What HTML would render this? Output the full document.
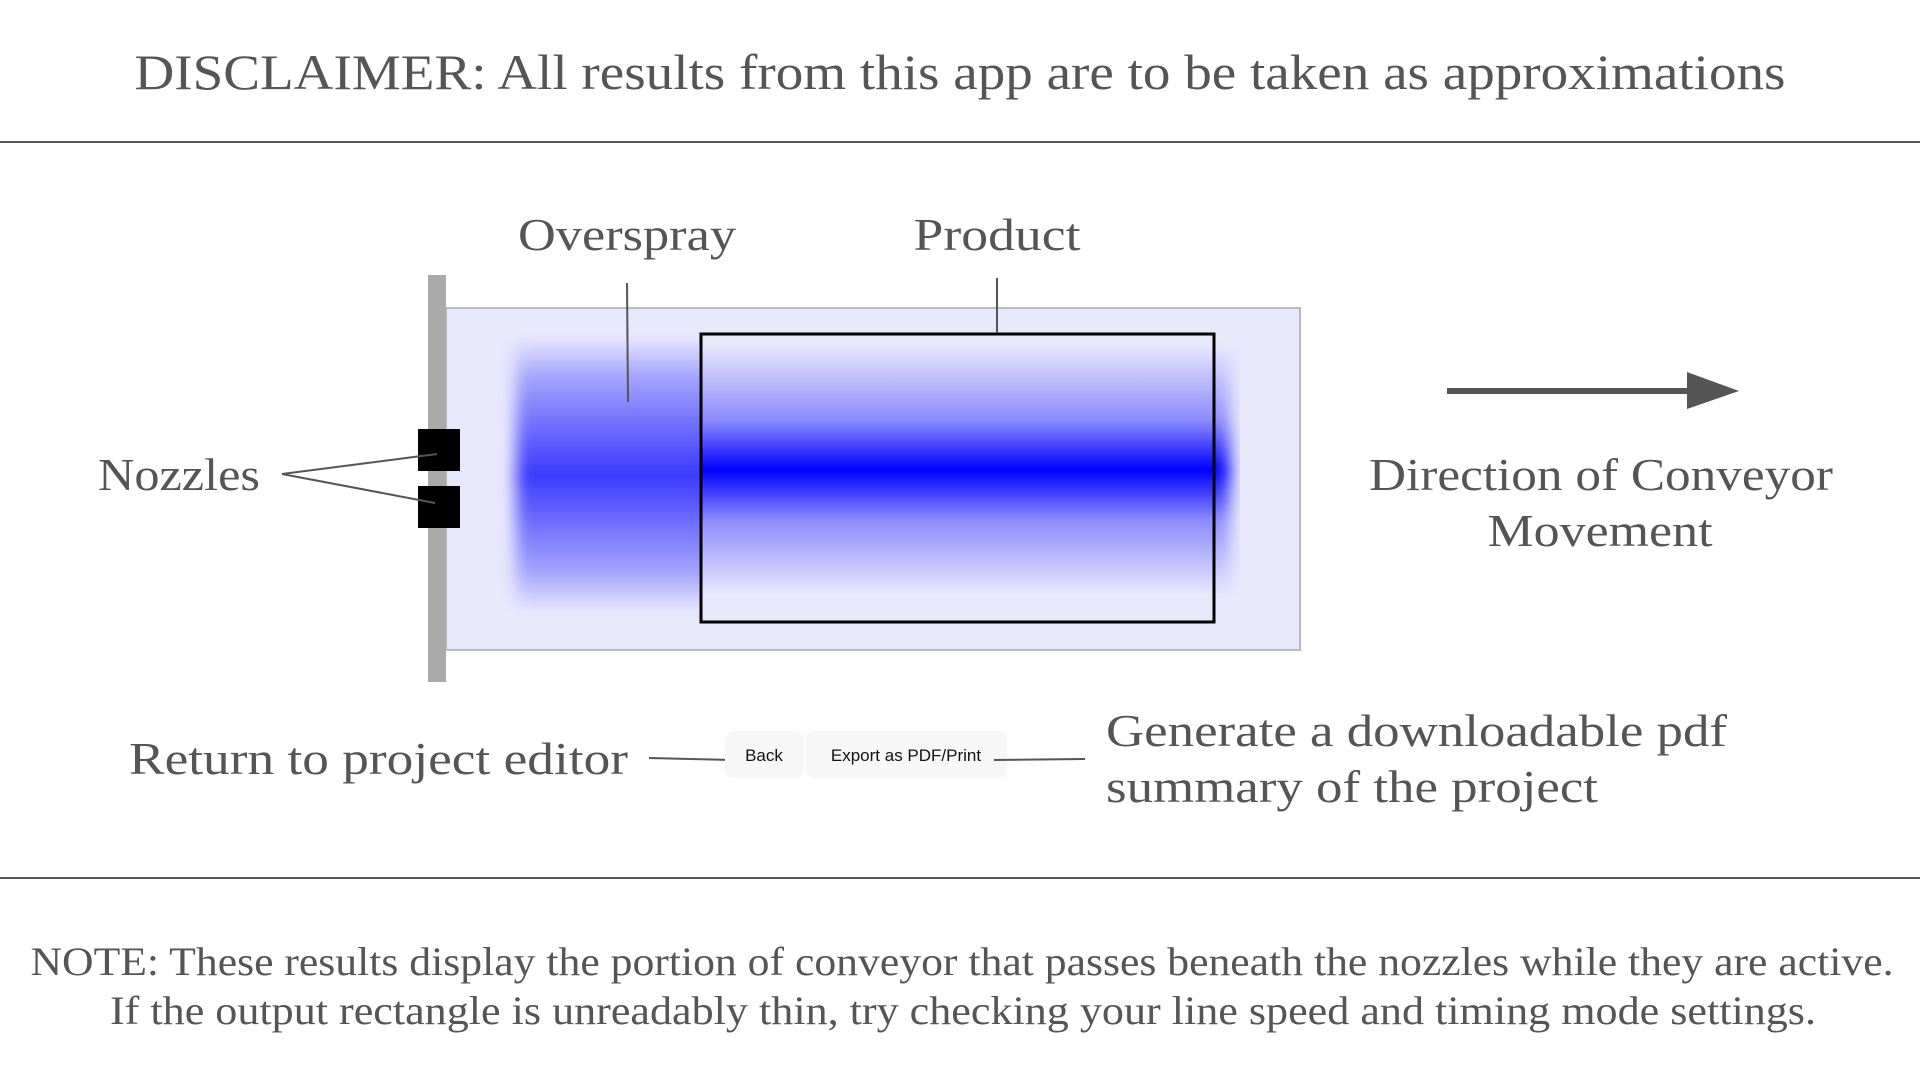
<!DOCTYPE html>
<html><head><meta charset="utf-8"><style>
html,body{margin:0;padding:0;background:#fff;width:1920px;height:1080px;overflow:hidden}
svg{display:block}
.s{font-family:"Liberation Serif","DejaVu Serif",serif;fill:#555}
.b{font-family:"Liberation Sans","DejaVu Sans",sans-serif;fill:#111;font-size:17px}
</style></head><body>
<svg width="1920" height="1080" viewBox="0 0 1920 1080" xmlns="http://www.w3.org/2000/svg">
<defs>
<linearGradient id="g1" x1="0" y1="0" x2="0" y2="1">
<stop offset="0" stop-color="#0000ff" stop-opacity="0"/>
<stop offset="0.15" stop-color="#0000ff" stop-opacity="0.3"/>
<stop offset="0.5" stop-color="#0000ff" stop-opacity="0.75"/>
<stop offset="0.85" stop-color="#0000ff" stop-opacity="0.3"/>
<stop offset="1" stop-color="#0000ff" stop-opacity="0"/>
</linearGradient>
<linearGradient id="g2" x1="0" y1="0" x2="0" y2="1">
<stop offset="0" stop-color="#0000ff" stop-opacity="0"/>
<stop offset="0.3" stop-color="#0000ff" stop-opacity="0.4"/>
<stop offset="0.5" stop-color="#0000ff" stop-opacity="1"/>
<stop offset="0.7" stop-color="#0000ff" stop-opacity="0.4"/>
<stop offset="1" stop-color="#0000ff" stop-opacity="0"/>
</linearGradient>
<filter id="bl" x="-20%" y="-10%" width="140%" height="120%"><feGaussianBlur stdDeviation="8 4"/></filter>
<clipPath id="cl"><rect x="0" y="0" width="701" height="1080"/></clipPath>
<clipPath id="cr"><rect x="1214" y="0" width="200" height="1080"/></clipPath>
</defs>
<text class="s" x="960" y="89" font-size="50" text-anchor="middle" textLength="1651" lengthAdjust="spacingAndGlyphs">DISCLAIMER: All results from this app are to be taken as approximations</text>
<line x1="0" y1="142" x2="1920" y2="142" stroke="#555" stroke-width="2"/>

<rect x="446" y="308" width="854" height="342" fill="#e8e8fc" stroke="#bbb" stroke-width="2"/>
<g clip-path="url(#cl)"><rect x="516" y="337" width="230" height="275" fill="url(#g1)" filter="url(#bl)"/></g>
<rect x="701" y="345" width="513" height="250" fill="url(#g2)"/>
<g clip-path="url(#cr)"><rect x="1180" y="345" width="50" height="250" fill="url(#g2)" filter="url(#bl)"/></g>
<rect x="701" y="334" width="513" height="288" fill="none" stroke="#000" stroke-width="3"/>
<rect x="428" y="275" width="18" height="407" fill="#aaa"/>
<rect x="418" y="429" width="42" height="42" fill="#000"/>
<rect x="418" y="486" width="42" height="42" fill="#000"/>

<text class="s" x="627" y="250" font-size="46" text-anchor="middle" textLength="218" lengthAdjust="spacingAndGlyphs">Overspray</text>
<line x1="627" y1="283" x2="628" y2="402" stroke="#555" stroke-width="2"/>
<text class="s" x="997" y="250" font-size="46" text-anchor="middle" textLength="167" lengthAdjust="spacingAndGlyphs">Product</text>
<line x1="997" y1="278" x2="997" y2="333" stroke="#555" stroke-width="2"/>

<text class="s" x="98" y="490" font-size="46" textLength="162" lengthAdjust="spacingAndGlyphs">Nozzles</text>
<line x1="282" y1="474" x2="437" y2="454" stroke="#555" stroke-width="2"/>
<line x1="282" y1="474" x2="435" y2="503" stroke="#555" stroke-width="2"/>

<line x1="1447" y1="391" x2="1690" y2="391" stroke="#555" stroke-width="6"/>
<polygon points="1687,372 1739,391 1687,409" fill="#555"/>
<text class="s" x="1601" y="490" font-size="46" text-anchor="middle" textLength="464" lengthAdjust="spacingAndGlyphs">Direction of Conveyor</text>
<text class="s" x="1600" y="546" font-size="46" text-anchor="middle" textLength="225" lengthAdjust="spacingAndGlyphs">Movement</text>

<text class="s" x="129" y="774" font-size="46" textLength="499" lengthAdjust="spacingAndGlyphs">Return to project editor</text>
<line x1="649" y1="758" x2="732" y2="760" stroke="#555" stroke-width="2"/>
<rect x="725" y="731" width="79" height="47" rx="9" fill="#f7f7f7"/>
<rect x="806" y="731" width="201" height="47" rx="9" fill="#f7f7f7"/>
<text class="b" x="764" y="761" text-anchor="middle">Back</text>
<text class="b" x="906" y="761" text-anchor="middle">Export as PDF/Print</text>
<line x1="994" y1="760" x2="1085" y2="759" stroke="#555" stroke-width="2"/>
<text class="s" x="1106" y="746" font-size="46" textLength="621" lengthAdjust="spacingAndGlyphs">Generate a downloadable pdf</text>
<text class="s" x="1106" y="802" font-size="46" textLength="492" lengthAdjust="spacingAndGlyphs">summary of the project</text>

<line x1="0" y1="878" x2="1920" y2="878" stroke="#555" stroke-width="2"/>
<text class="s" x="962" y="975" font-size="40" text-anchor="middle" textLength="1863" lengthAdjust="spacingAndGlyphs">NOTE: These results display the portion of conveyor that passes beneath the nozzles while they are active.</text>
<text class="s" x="963" y="1024" font-size="40" text-anchor="middle" textLength="1706" lengthAdjust="spacingAndGlyphs">If the output rectangle is unreadably thin, try checking your line speed and timing mode settings.</text>
</svg>
</body></html>
